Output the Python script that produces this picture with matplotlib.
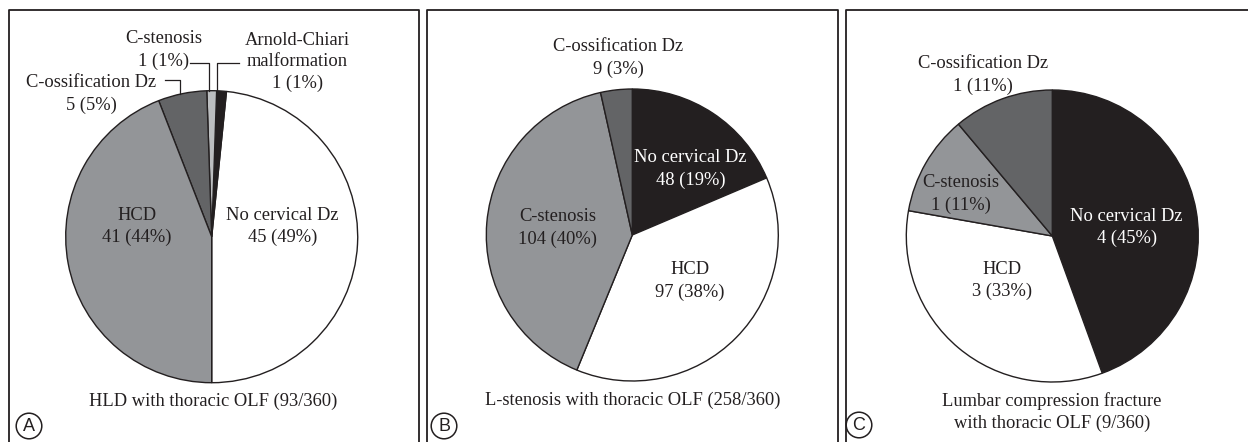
import matplotlib
matplotlib.use("Agg")
import matplotlib.pyplot as plt
from matplotlib.patches import Circle

# data
a_labels = ["No cervical Dz\n45 (49%)", "", "", "", "HCD\n41 (44%)"]
a_values = [45, 1, 1, 5, 41]   # no cervical, arnold-chiari, c-stenosis, c-ossification, HCD
b_labels = ["No cervical Dz\n48 (19%)", "HCD\n97 (38%)", "C-stenosis\n104 (40%)", "C-ossification Dz\n9 (3%)"]
b_values = [48, 97, 104, 9]
c_labels = ["No cervical Dz\n4 (45%)", "HCD\n3 (33%)", "C-stenosis\n1 (11%)", "C-ossification Dz\n1 (11%)"]
c_values = [4, 3, 1, 1]
titles = ["HLD with thoracic OLF (93/360)",
          "L-stenosis with thoracic OLF (258/360)",
          "Lumbar compression fracture\nwith thoracic OLF (9/360)"]
letters = ["A", "B", "C"]

BLACK = "#231f20"
GRAY = "#939598"
DARK = "#636466"
LIGHT = "#bcbec0"
WHITE = "#ffffff"

W, H = 1248, 442
R = 146
FS = 13.3
plt.rcParams["font.family"] = ["Liberation Serif", "DejaVu Serif"]

fig = plt.figure(figsize=(W / 100, H / 100), dpi=100)


def panel(x0, x1, cx, cy, bx0, bx1):
    ax = fig.add_axes([x0 / W, 0, (x1 - x0) / W, 1])
    ax.axis("off")
    ax._cx, ax._cy = cx, cy
    # panel frame (pixel coords -> data)
    xs = [bx0 - cx, bx0 - cx, bx1 - cx, bx1 - cx]
    ys = [cy - H - 5, cy - 10, cy - 10, cy - H - 5]
    ax.plot(xs, ys, color=BLACK, lw=1.3, clip_on=False)
    return ax


def finish(ax, x0, x1):
    ax.set_xlim(x0 - ax._cx, x1 - ax._cx)
    ax.set_ylim(ax._cy - H, ax._cy)
    ax.set_aspect("auto")


def lab(ax, x, y, s, color=BLACK, **kw):
    ax.text(x, y, s, ha="center", va="center", fontsize=FS, color=color,
            linespacing=1.36, **kw)


def letter(ax, px, py, s):
    x, y = px - ax._cx, ax._cy - py
    ax.add_patch(Circle((x, y), 12.8, fc="white", ec=BLACK, lw=1.1, clip_on=False))
    ax.text(x, y - 0.5, s, ha="center", va="center", fontsize=13,
            family="Liberation Sans", color=BLACK)


wp = dict(edgecolor=BLACK, linewidth=1.0)

# ---- panel A
axA = panel(0, 423, 211.7, 236.7, 9, 419)
axA.pie(a_values, colors=[WHITE, BLACK, LIGHT, DARK, GRAY], radius=R,
        startangle=-90, counterclock=True, wedgeprops=wp)
lab(axA, 71, 10, a_labels[0])
lab(axA, -75, 10, a_labels[4])
lab(axA, -120.7, 142.7, "C-ossification Dz\n5 (5%)")
lab(axA, -48, 186.7, "C-stenosis\n1 (1%)")
lab(axA, 85.8, 174.7, "Arnold-Chiari\nmalformation\n1 (1%)")
axA.plot([-47, -31.7, -31.7], [156.7, 156.7, 143], color=BLACK, lw=0.9)
axA.plot([-22, -2.7, -2.7], [173.4, 173.4, 146], color=BLACK, lw=0.9)
axA.plot([27, 5.5, 5.5], [173.4, 173.4, 146], color=BLACK, lw=0.9)
lab(axA, 1.6, 236.7 - 401.7, titles[0])
letter(axA, 29, 426, letters[0])
finish(axA, 0, 423)

# ---- panel B
axB = panel(423, 842, 632.3, 235, 427, 838)
axB.pie(b_values, colors=[BLACK, WHITE, GRAY, DARK], radius=R,
        startangle=90, counterclock=False, wedgeprops=wp)
lab(axB, 58.4, 66, b_labels[0], color="white")
lab(axB, 57.7, -46, b_labels[1])
lab(axB, -75, 7, b_labels[2])
lab(axB, -14, 177, b_labels[3])
lab(axB, 0.7, 235 - 400, titles[1])
letter(axB, 444, 426, letters[1])
finish(axB, 423, 842)

# ---- panel C
axC = panel(842, 1248, 1052.3, 236, 846, 1260)
axC.pie(c_values, colors=[BLACK, WHITE, GRAY, DARK], radius=R,
        startangle=90, counterclock=False, wedgeprops=wp)
lab(axC, 74.4, 8.5, c_labels[0], color="white")
lab(axC, -50.6, -44.5, c_labels[1])
lab(axC, -91.3, 42, c_labels[2])
lab(axC, -69, 161, c_labels[3])
lab(axC, -0.6, 236 - 411.7, titles[2])
letter(axC, 859, 425, letters[2])
finish(axC, 842, 1248)

fig.savefig("out.png", dpi=100, facecolor="white")
